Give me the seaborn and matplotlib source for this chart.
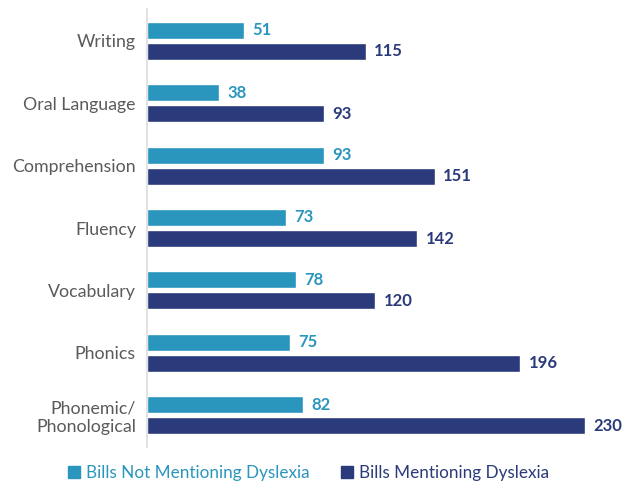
import matplotlib.pyplot as plt
import pandas as pd
import seaborn as sns
from matplotlib.lines import Line2D

categories = ["Writing", "Oral Language", "Comprehension", "Fluency",
              "Vocabulary", "Phonics", "Phonemic/\nPhonological"]
not_mentioning = [51, 38, 93, 73, 78, 75, 82]
mentioning = [115, 93, 151, 142, 120, 196, 230]
series = ["Bills Not Mentioning Dyslexia", "Bills Mentioning Dyslexia"]
colors = ["#2a95bd", "#2b3a7a"]

df = pd.DataFrame({
    "category": categories * 2,
    "series": [series[0]] * len(categories) + [series[1]] * len(categories),
    "count": not_mentioning + mentioning,
})

sns.set_style("white")
plt.rcParams["font.family"] = ["Lato", "DejaVu Sans"]

fig = plt.figure(figsize=(6.32, 4.84), dpi=100)
ax = fig.add_axes([147 / 632, 1 - 447 / 484, 476 / 632, 438 / 484])

sns.barplot(data=df, y="category", x="count", hue="series", order=categories,
            hue_order=series, palette=colors, orient="h", width=0.675, gap=0.19,
            saturation=1, legend=False, ax=ax)

for container, col in zip(ax.containers, colors):
    ax.bar_label(container, padding=6, color=col, fontsize=12, fontweight="bold")

ax.set_xlim(0, 250)
ax.set_ylim(6.51, -0.51)
ax.set_xlabel("")
ax.set_ylabel("")
ax.set_xticks([])
ax.tick_params(axis="y", length=0, pad=8, labelsize=12.8, labelcolor="#5a5a5a")
for lbl in ax.get_yticklabels():
    lbl.set_horizontalalignment("right")
    lbl.set_multialignment("right")
for side in ["top", "right", "bottom"]:
    ax.spines[side].set_visible(False)
ax.spines["left"].set_color("#dddddd")
ax.spines["left"].set_linewidth(1.2)

handles = [Line2D([], [], marker="s", linestyle="", markersize=8,
                  markerfacecolor=c, markeredgecolor=c) for c in colors]
fig.legend(handles, series, loc="center", bbox_to_anchor=(0.487, 1 - 473 / 484),
           ncol=2, frameon=False, fontsize=12.3, labelcolor=colors,
           handletextpad=0.3, columnspacing=1.8, handlelength=0.8)

fig.savefig("out.png", dpi=100)
